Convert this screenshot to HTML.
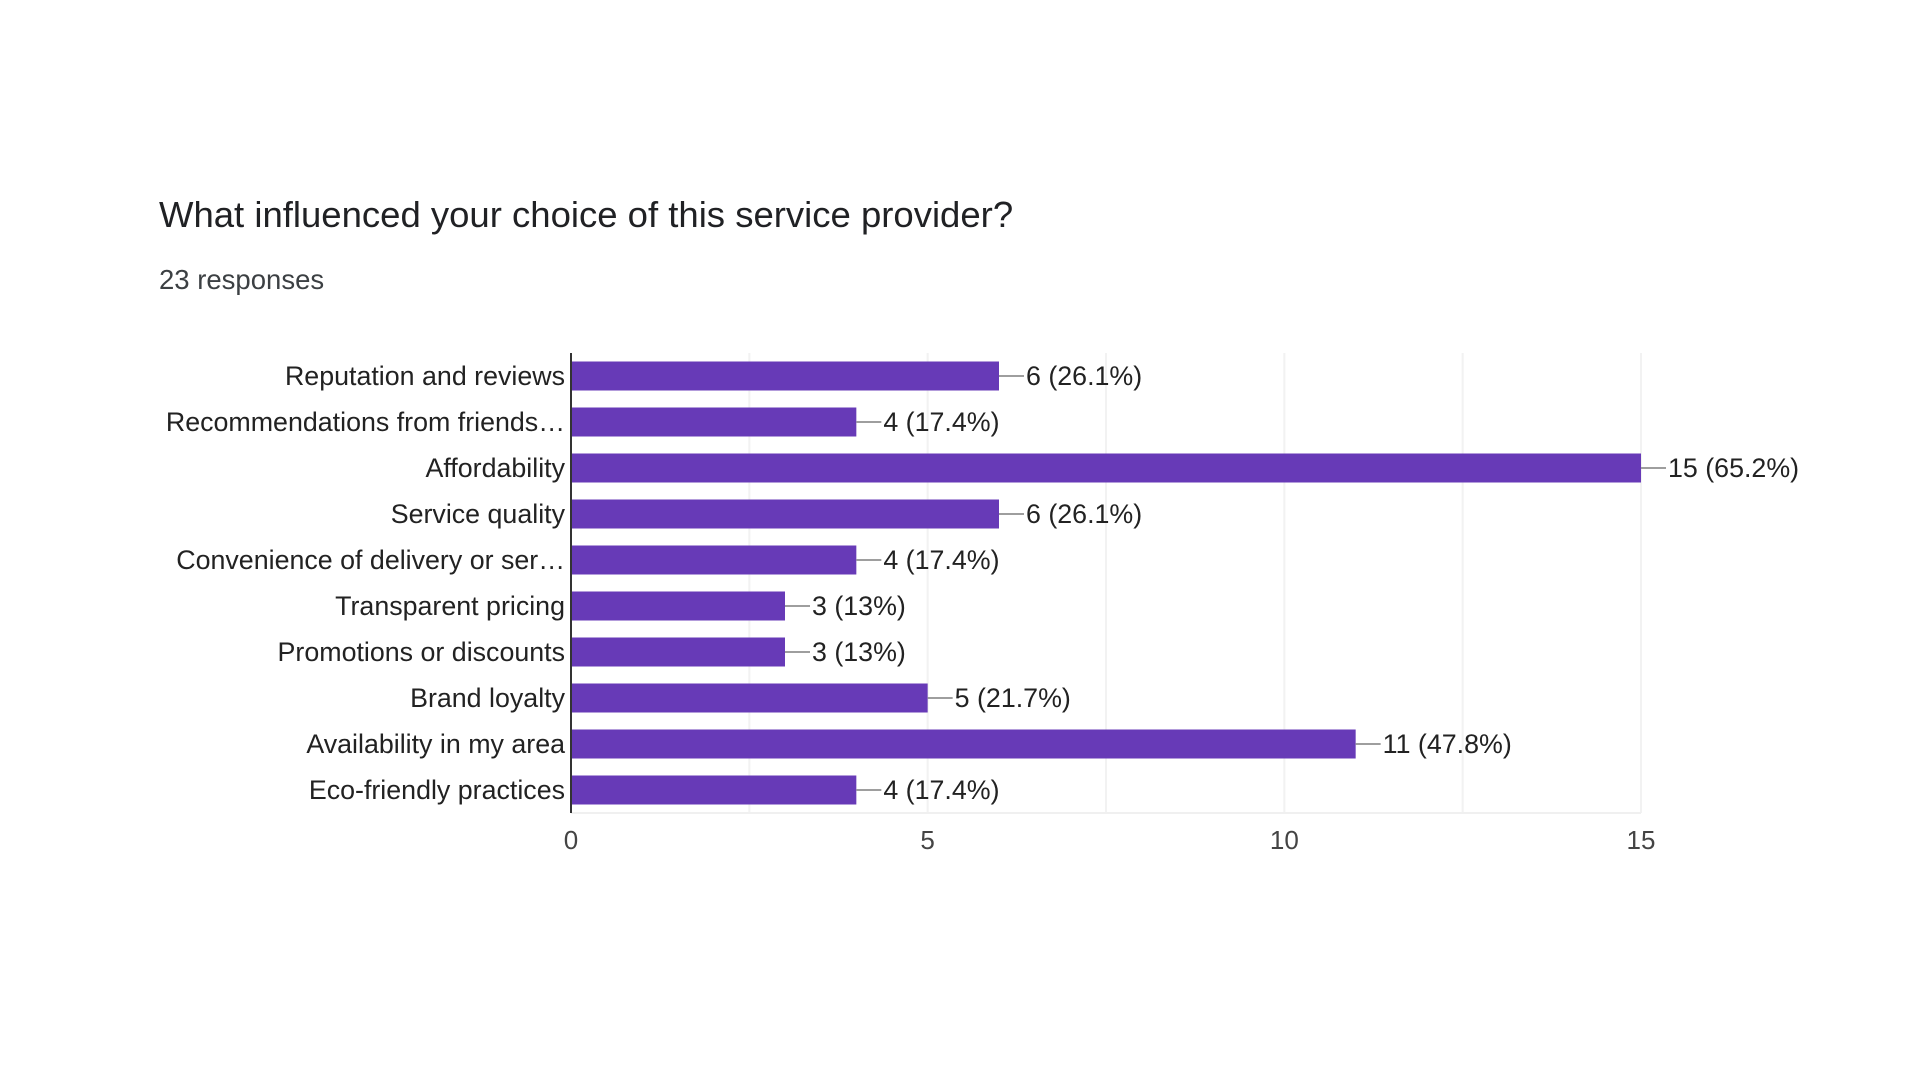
<!DOCTYPE html>
<html><head><meta charset="utf-8"><style>
html,body{margin:0;padding:0;background:#fff;width:1920px;height:1080px;overflow:hidden;font-family:"Liberation Sans",Arial,sans-serif}
#title{position:absolute;left:159px;top:194px;font-size:36.5px;color:#202124;white-space:nowrap}
#sub{position:absolute;left:159px;top:264px;font-size:27.5px;color:#3c4043;white-space:nowrap}
svg{position:absolute;left:0;top:0}
</style></head><body>
<div id="title">What influenced your choice of this service provider?</div>
<div id="sub">23 responses</div>
<svg id="chart" width="1920" height="1080"></svg>
<script>
const categories=["Reputation and reviews","Recommendations from friends…","Affordability","Service quality","Convenience of delivery or ser…","Transparent pricing","Promotions or discounts","Brand loyalty","Availability in my area","Eco-friendly practices"];
const values=[6,4,15,6,4,3,3,5,11,4];
const valueLabels=["6 (26.1%)","4 (17.4%)","15 (65.2%)","6 (26.1%)","4 (17.4%)","3 (13%)","3 (13%)","5 (21.7%)","11 (47.8%)","4 (17.4%)"];
const ticks=[0,5,10,15];
const grid=[2.5,5,7.5,10,12.5,15];
const X0=571,X1=1641,MAX=15,TOP=353,BOT=813;
const svg=document.getElementById('chart');const NS='http://www.w3.org/2000/svg';
const x=v=>X0+(X1-X0)*v/MAX;
const band=(BOT-TOP)/categories.length;
const yc=i=>TOP+band*(i+0.5);
function mk(t,a){const e=document.createElementNS(NS,t);for(const k in a)e.setAttribute(k,a[k]);svg.appendChild(e);return e;}
grid.forEach(g=>{const l=mk('line',{x1:x(g),x2:x(g),y1:TOP,y2:BOT,stroke:'#f2f2f2','stroke-width':2});

});
const bl=mk('line',{x1:X0,x2:X1,y1:BOT,y2:BOT,stroke:'#f0f0f0','stroke-width':2});


categories.forEach((c,i)=>{
const r=mk('rect',{x:X0,y:yc(i)-14.5,width:x(values[i])-X0,height:29,fill:'#673ab7'});


const ld=mk('line',{x1:x(values[i]),x2:x(values[i])+25,y1:yc(i),y2:yc(i),stroke:'#9e9e9e','stroke-width':2});


const t=mk('text',{x:565,y:yc(i)+9,'text-anchor':'end','font-size':26.8,fill:'#222'});t.textContent=c;


const v=mk('text',{x:x(values[i])+27,y:yc(i)+9,'font-size':26.8,fill:'#222'});v.textContent=valueLabels[i];


});
const ax=mk('line',{x1:X0,x2:X0,y1:TOP,y2:BOT,stroke:'#333','stroke-width':2});


ticks.forEach(tk=>{const t=mk('text',{x:x(tk),y:849,'text-anchor':'middle','font-size':26,fill:'#444'});t.textContent=tk;

});
</script>
</body></html>
